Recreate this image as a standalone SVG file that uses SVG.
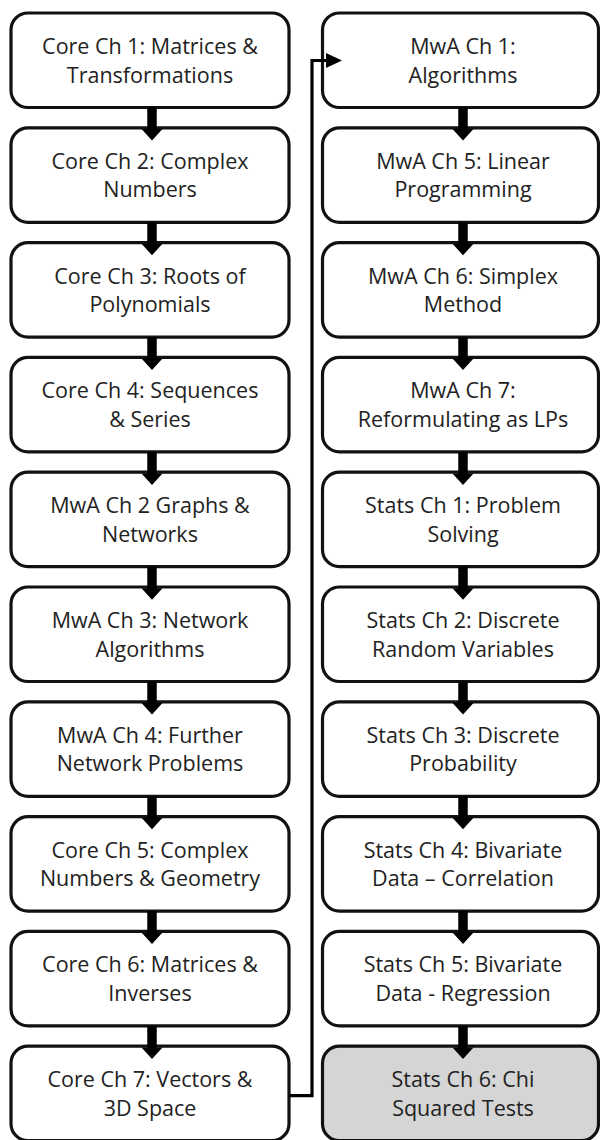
<svg xmlns="http://www.w3.org/2000/svg" xmlns:xlink="http://www.w3.org/1999/xlink" width="600" height="1140" viewBox="0 0 600 1140">
  <style>
    .box { fill: #ffffff; stroke: #111111; stroke-width: 3.2; }
    .box.last { fill: #d5d5d5; }
    .lbl { font-family: "Open Sans", "Noto Sans", "Liberation Sans", sans-serif; font-size: 21.5px; font-weight: 400; fill: #222222; text-anchor: middle; }
    .conn { fill: none; stroke: #000000; stroke-width: 3.2; }
    .head { fill: #000000; }
  </style>
  <defs>
    <!-- thick block arrow, origin at top centre of the shaft -->
    <path id="down" d="M-4.75,0 H4.75 V21.5 H10.5 L0,33 L-10.5,21.5 H-4.75 Z" fill="#000000"/>
  </defs>
  <rect width="600" height="1140" fill="#ffffff"/>

  <!-- left column -->
  <g id="core1"><rect class="box" x="11" y="13" width="278" height="94.5" rx="17"/>
    <text class="lbl" x="150" y="54">Core Ch 1: Matrices &amp;</text><text class="lbl" x="150" y="82.5">Transformations</text></g>
  <g id="core2"><rect class="box" x="11" y="127.8" width="278" height="94.5" rx="17"/>
    <text class="lbl" x="150" y="168.8">Core Ch 2: Complex</text><text class="lbl" x="150" y="197.3">Numbers</text></g>
  <g id="core3"><rect class="box" x="11" y="242.6" width="278" height="94.5" rx="17"/>
    <text class="lbl" x="150" y="283.6">Core Ch 3: Roots of</text><text class="lbl" x="150" y="312.1">Polynomials</text></g>
  <g id="core4"><rect class="box" x="11" y="357.4" width="278" height="94.5" rx="17"/>
    <text class="lbl" x="150" y="398.4">Core Ch 4: Sequences</text><text class="lbl" x="150" y="426.9">&amp; Series</text></g>
  <g id="mwa2"><rect class="box" x="11" y="472.2" width="278" height="94.5" rx="17"/>
    <text class="lbl" x="150" y="513.2">MwA Ch 2 Graphs &amp;</text><text class="lbl" x="150" y="541.7">Networks</text></g>
  <g id="mwa3"><rect class="box" x="11" y="587" width="278" height="94.5" rx="17"/>
    <text class="lbl" x="150" y="628">MwA Ch 3: Network</text><text class="lbl" x="150" y="656.5">Algorithms</text></g>
  <g id="mwa4"><rect class="box" x="11" y="701.8" width="278" height="94.5" rx="17"/>
    <text class="lbl" x="150" y="742.8">MwA Ch 4: Further</text><text class="lbl" x="150" y="771.3">Network Problems</text></g>
  <g id="core5"><rect class="box" x="11" y="816.6" width="278" height="94.5" rx="17"/>
    <text class="lbl" x="150" y="857.6">Core Ch 5: Complex</text><text class="lbl" x="150" y="886.1">Numbers &amp; Geometry</text></g>
  <g id="core6"><rect class="box" x="11" y="931.4" width="278" height="94.5" rx="17"/>
    <text class="lbl" x="150" y="972.4">Core Ch 6: Matrices &amp;</text><text class="lbl" x="150" y="1000.9">Inverses</text></g>
  <g id="core7"><rect class="box" x="11" y="1046.2" width="278" height="94.5" rx="17"/>
    <text class="lbl" x="150" y="1087.2">Core Ch 7: Vectors &amp;</text><text class="lbl" x="150" y="1115.7">3D Space</text></g>

  <!-- right column -->
  <g id="mwa1"><rect class="box" x="322.5" y="13" width="276" height="94.5" rx="17"/>
    <text class="lbl" x="463" y="54">MwA Ch 1:</text><text class="lbl" x="463" y="82.5">Algorithms</text></g>
  <g id="mwa5"><rect class="box" x="322.5" y="127.8" width="276" height="94.5" rx="17"/>
    <text class="lbl" x="463" y="168.8">MwA Ch 5: Linear</text><text class="lbl" x="463" y="197.3">Programming</text></g>
  <g id="mwa6"><rect class="box" x="322.5" y="242.6" width="276" height="94.5" rx="17"/>
    <text class="lbl" x="463" y="283.6">MwA Ch 6: Simplex</text><text class="lbl" x="463" y="312.1">Method</text></g>
  <g id="mwa7"><rect class="box" x="322.5" y="357.4" width="276" height="94.5" rx="17"/>
    <text class="lbl" x="463" y="398.4">MwA Ch 7:</text><text class="lbl" x="463" y="426.9">Reformulating as LPs</text></g>
  <g id="stats1"><rect class="box" x="322.5" y="472.2" width="276" height="94.5" rx="17"/>
    <text class="lbl" x="463" y="513.2">Stats Ch 1: Problem</text><text class="lbl" x="463" y="541.7">Solving</text></g>
  <g id="stats2"><rect class="box" x="322.5" y="587" width="276" height="94.5" rx="17"/>
    <text class="lbl" x="463" y="628">Stats Ch 2: Discrete</text><text class="lbl" x="463" y="656.5">Random Variables</text></g>
  <g id="stats3"><rect class="box" x="322.5" y="701.8" width="276" height="94.5" rx="17"/>
    <text class="lbl" x="463" y="742.8">Stats Ch 3: Discrete</text><text class="lbl" x="463" y="771.3">Probability</text></g>
  <g id="stats4"><rect class="box" x="322.5" y="816.6" width="276" height="94.5" rx="17"/>
    <text class="lbl" x="463" y="857.6">Stats Ch 4: Bivariate</text><text class="lbl" x="463" y="886.1">Data – Correlation</text></g>
  <g id="stats5"><rect class="box" x="322.5" y="931.4" width="276" height="94.5" rx="17"/>
    <text class="lbl" x="463" y="972.4">Stats Ch 5: Bivariate</text><text class="lbl" x="463" y="1000.9">Data - Regression</text></g>
  <g id="stats6"><rect class="box last" x="322.5" y="1046.2" width="276" height="94.5" rx="17"/>
    <text class="lbl" x="463" y="1087.2">Stats Ch 6: Chi</text><text class="lbl" x="463" y="1115.7">Squared Tests</text></g>

  <!-- connectors -->
  <g id="connectors">
    <use xlink:href="#down" x="152" y="107.5"/>
    <use xlink:href="#down" x="152" y="222.3"/>
    <use xlink:href="#down" x="152" y="337.1"/>
    <use xlink:href="#down" x="152" y="451.9"/>
    <use xlink:href="#down" x="152" y="566.7"/>
    <use xlink:href="#down" x="152" y="681.5"/>
    <use xlink:href="#down" x="152" y="796.3"/>
    <use xlink:href="#down" x="152" y="911.1"/>
    <use xlink:href="#down" x="152" y="1025.9"/>
    <use xlink:href="#down" x="463" y="107.5"/>
    <use xlink:href="#down" x="463" y="222.3"/>
    <use xlink:href="#down" x="463" y="337.1"/>
    <use xlink:href="#down" x="463" y="451.9"/>
    <use xlink:href="#down" x="463" y="566.7"/>
    <use xlink:href="#down" x="463" y="681.5"/>
    <use xlink:href="#down" x="463" y="796.3"/>
    <use xlink:href="#down" x="463" y="911.1"/>
    <use xlink:href="#down" x="463" y="1025.9"/>
    <!-- wrap from the bottom of the left column to the top of the right one -->
    <path class="conn" d="M289,1095.7 H312 V60.5 H327"/>
    <path class="head" d="M326,53 L342,60.5 L326,68 Z"/>
  </g>
</svg>
